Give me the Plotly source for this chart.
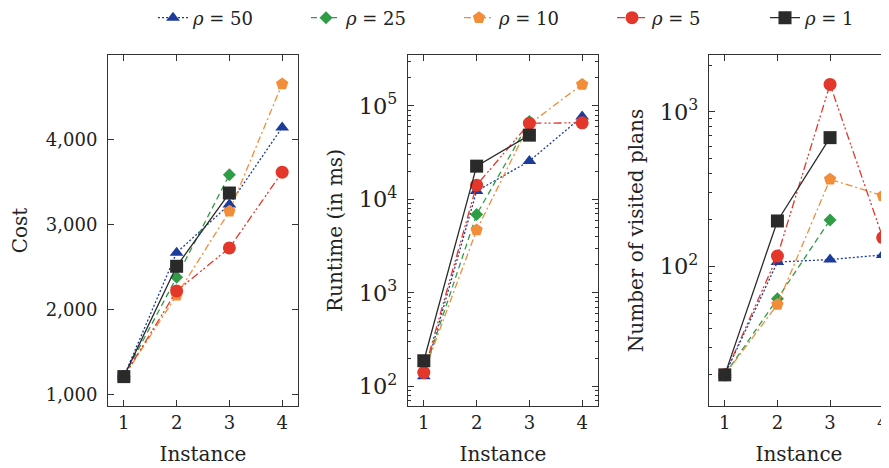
import plotly.graph_objects as go

# ---------------- data ----------------
instances = [1, 2, 3, 4]
series_names = ["<i>ρ</i> = 50", "<i>ρ</i> = 25", "<i>ρ</i> = 10", "<i>ρ</i> = 5", "<i>ρ</i> = 1"]

cost_50 = [1215, 2670, 3235, 4140]
cost_25 = [1215, 2380, 3585, None]
cost_10 = [1215, 2170, 3155, 4650]
cost_5 = [1215, 2220, 2725, 3615]
cost_1 = [1215, 2510, 3370, None]

runtime_50 = [128, 12300, 25700, 77000]
runtime_25 = [140, 6900, 68000, None]
runtime_10 = [140, 4700, 64000, 170000]
runtime_5 = [141, 14200, 65300, 66000]
runtime_1 = [188, 22700, 48700, None]

plans_50 = [20, 107, 111, 119]
plans_25 = [20, 62, 200, None]
plans_10 = [20, 57, 366, 287]
plans_5 = [20, 117, 1500, 154]
plans_1 = [20, 197, 680, None]

x_tick_labels = ["1", "2", "3", "4"]
y_titles = ["Cost", "Runtime (in ms)", "Number of visited plans"]
x_title = "Instance"

# ---------------- styles ----------------
colors = ["#1d3b9b", "#2f9c46", "#f28d3a", "#e3372c", "#2a2a2a"]
symbols = ["triangle-up", "diamond", "pentagon", "circle", "square"]
sizes = [12, 10, 13, 13, 13]
dashes = ["2px,2px", "6px,4px", "7px,3px,2px,3px", "8px,3px,2px,2px,2px,3px", "solid"]

panels = [
    [cost_50, cost_25, cost_10, cost_5, cost_1],
    [runtime_50, runtime_25, runtime_10, runtime_5, runtime_1],
    [plans_50, plans_25, plans_10, plans_5, plans_1],
]

FONT = "DejaVu Serif"
fig = go.Figure()

for p, data in enumerate(panels):
    xa = "x" if p == 0 else f"x{p+1}"
    ya = "y" if p == 0 else f"y{p+1}"
    for i, vals in enumerate(data):
        fig.add_trace(go.Scatter(
            x=instances, y=vals, xaxis=xa, yaxis=ya,
            mode="lines+markers", name=series_names[i],
            showlegend=(p == 0),
            line=dict(color=colors[i], width=1.3, dash=dashes[i]),
            marker=dict(symbol=symbols[i], size=sizes[i], color=colors[i],
                        line=dict(width=0)),
        ))

# page body has an 8px margin, so the figure is 8px smaller and offset
W, H = 881, 460
ydom = [62 / H, 413 / H]
xdoms = [[100 / W, 290 / W], [400 / W, 590 / W], [701 / W, 1.0]]
xranges = [[0.7, 4.3], [0.7, 4.3], [0.7, 4.12]]

axis_common = dict(
    showline=True, linecolor="#333", linewidth=1, ticks="inside",
    tickcolor="#333", showgrid=False, zeroline=False, automargin=False,
    tickfont=dict(family=FONT, size=18, color="#222"),
)
title_font = dict(family=FONT, size=20, color="#222")
minor_log = dict(ticks="inside", ticklen=3, tickcolor="#333", showgrid=False, dtick="D1")

layout = dict(
    width=W, height=H,
    margin=dict(l=0, r=0, t=0, b=0, autoexpand=False),
    paper_bgcolor="white", plot_bgcolor="white",
    font=dict(family=FONT, size=18, color="#222"),
    legend=dict(orientation="h", x=145 / W, xanchor="left", y=1 - 10 / H, yanchor="middle",
                entrywidth=108, entrywidthmode="pixels",
                font=dict(family=FONT, size=18, color="#222"),
                bgcolor="rgba(0,0,0,0)", tracegroupgap=0, itemwidth=30),
)

for p in range(3):
    k = "" if p == 0 else str(p + 1)
    layout["xaxis" + k] = dict(
        axis_common, domain=xdoms[p], range=xranges[p], anchor="y" + k,
        tickvals=instances, ticktext=x_tick_labels, ticklen=6,
        mirror="allticks", ticklabelstandoff=0,
        title=dict(text=x_title, font=title_font, standoff=15),
    )

layout["yaxis"] = dict(
    axis_common, domain=ydom, range=[870, 4990], anchor="x",
    dtick=1000, tickformat=",d", ticklen=6, mirror="allticks",
    ticklabelstandoff=6,
    title=dict(text=y_titles[0], font=title_font, standoff=14),
)
layout["yaxis2"] = dict(
    axis_common, domain=ydom, type="log", range=[1.79, 5.545], anchor="x2",
    dtick=1, exponentformat="power", ticklen=6, mirror="allticks",
    minor=minor_log, ticklabelstandoff=6,
    title=dict(text=y_titles[1], font=title_font, standoff=10),
)
layout["yaxis3"] = dict(
    axis_common, domain=ydom, type="log", range=[1.10, 3.366], anchor="x3",
    dtick=1, exponentformat="power", ticklen=6, mirror=False,
    minor=minor_log, ticklabelstandoff=6,
    title=dict(text=y_titles[2], font=title_font, standoff=10),
)

fig.update_layout(**layout)
fig.write_html("out.html")
